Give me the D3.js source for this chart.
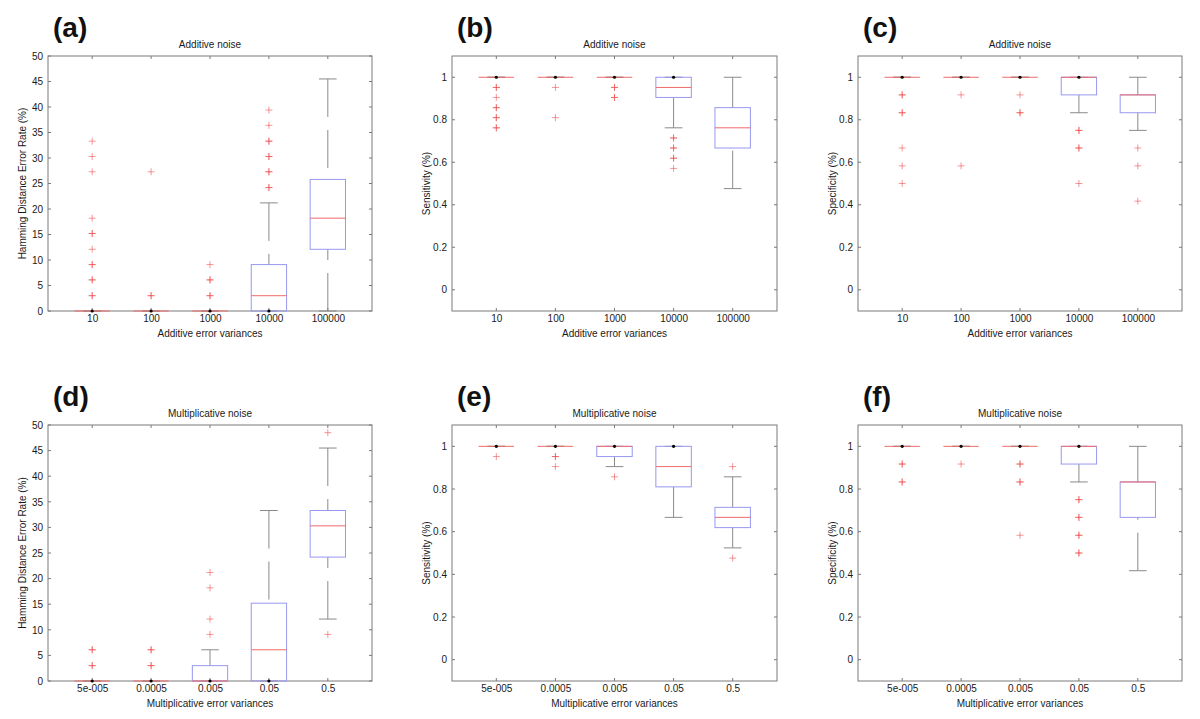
<!DOCTYPE html>
<html>
<head>
<meta charset="utf-8">
<script src="https://cdn.jsdelivr.net/npm/d3@7"></script>
<style>
  html, body { margin: 0; padding: 0; background: #fff; }
  svg { display: block; font-family: "Liberation Sans", Arial, Helvetica, sans-serif; }
</style>
</head>
<body>
<svg id="chart" width="1200" height="719"></svg>
<script>
// ---------- Data ----------
const addCats = ["10", "100", "1000", "10000", "100000"];
const mulCats = ["5e-005", "0.0005", "0.005", "0.05", "0.5"];

const hdTicks = [0, 5, 10, 15, 20, 25, 30, 35, 40, 45, 50];
const rateTicks = [0, 0.2, 0.4, 0.6, 0.8, 1];

// (a) Additive noise, Hamming distance error rate
const aQ1  = [0, 0, 0, 0, 12.1];
const aMed = [0, 0, 0, 3.0, 18.2];
const aQ3  = [0, 0, 0, 9.1, 25.8];
const aLo  = [0, 0, 0, 0, 0];
const aHi  = [0, 0, 0, 21.2, 45.5];
const aOut = [
  [33.3, 30.3, 27.3, 18.2, 15.2, 15.2, 12.1, 9.1, 9.1, 6.1, 6.1, 3.0, 3.0],
  [27.3, 3.0, 3.0],
  [9.1, 6.1, 6.1, 3.0, 3.0],
  [39.4, 36.4, 33.3, 33.3, 30.3, 30.3, 27.3, 27.3, 24.2, 24.2],
  []
];

// (b) Additive noise, sensitivity
const bQ1  = [1, 1, 1, 0.905, 0.667];
const bMed = [1, 1, 1, 0.952, 0.762];
const bQ3  = [1, 1, 1, 1, 0.857];
const bLo  = [1, 1, 1, 0.762, 0.476];
const bHi  = [1, 1, 1, 1, 1];
const bOut = [
  [0.952, 0.952, 0.905, 0.857, 0.857, 0.810, 0.810, 0.762, 0.762],
  [0.952, 0.810],
  [0.952, 0.952, 0.905, 0.905],
  [0.714, 0.714, 0.667, 0.667, 0.619, 0.619, 0.571],
  []
];

// (c) Additive noise, specificity
const cQ1  = [1, 1, 1, 0.917, 0.833];
const cMed = [1, 1, 1, 1, 0.917];
const cQ3  = [1, 1, 1, 1, 0.917];
const cLo  = [1, 1, 1, 0.833, 0.75];
const cHi  = [1, 1, 1, 1, 1];
const cOut = [
  [0.917, 0.917, 0.833, 0.833, 0.667, 0.583, 0.5],
  [0.917, 0.583],
  [0.917, 0.833, 0.833],
  [0.75, 0.75, 0.667, 0.667, 0.5],
  [0.667, 0.583, 0.417]
];

// (d) Multiplicative noise, Hamming distance error rate
const dQ1  = [0, 0, 0, 0, 24.2];
const dMed = [0, 0, 0, 6.1, 30.3];
const dQ3  = [0, 0, 3.0, 15.2, 33.3];
const dLo  = [0, 0, 0, 0, 12.1];
const dHi  = [0, 0, 6.1, 33.3, 45.5];
const dOut = [
  [6.1, 6.1, 3.0, 3.0],
  [6.1, 6.1, 3.0, 3.0],
  [21.2, 18.2, 12.1, 9.1],
  [],
  [48.5, 9.1]
];

// (e) Multiplicative noise, sensitivity
const eQ1  = [1, 1, 0.952, 0.810, 0.619];
const eMed = [1, 1, 1, 0.905, 0.667];
const eQ3  = [1, 1, 1, 1, 0.714];
const eLo  = [1, 1, 0.905, 0.667, 0.524];
const eHi  = [1, 1, 1, 1, 0.857];
const eOut = [
  [0.952],
  [0.952, 0.952, 0.905],
  [0.857],
  [],
  [0.905, 0.476]
];

// (f) Multiplicative noise, specificity
const fQ1  = [1, 1, 1, 0.917, 0.667];
const fMed = [1, 1, 1, 1, 0.833];
const fQ3  = [1, 1, 1, 1, 0.833];
const fLo  = [1, 1, 1, 0.833, 0.417];
const fHi  = [1, 1, 1, 1, 1];
const fOut = [
  [0.917, 0.917, 0.833, 0.833],
  [0.917],
  [0.917, 0.917, 0.833, 0.833, 0.583],
  [0.75, 0.75, 0.667, 0.667, 0.583, 0.583, 0.5, 0.5],
  []
];

const panels = [
  {tag: "(a)", title: "Additive noise", ylab: "Hamming Distance Error Rate (%)", xlab: "Additive error variances",
   cats: addCats, yDom: [0, 50], ticks: hdTicks, q1: aQ1, med: aMed, q3: aQ3, lo: aLo, hi: aHi, out: aOut, col: 0, row: 0},
  {tag: "(b)", title: "Additive noise", ylab: "Sensitivity (%)", xlab: "Additive error variances",
   cats: addCats, yDom: [-0.1, 1.1], ticks: rateTicks, q1: bQ1, med: bMed, q3: bQ3, lo: bLo, hi: bHi, out: bOut, col: 1, row: 0},
  {tag: "(c)", title: "Additive noise", ylab: "Specificity (%)", xlab: "Additive error variances",
   cats: addCats, yDom: [-0.1, 1.1], ticks: rateTicks, q1: cQ1, med: cMed, q3: cQ3, lo: cLo, hi: cHi, out: cOut, col: 2, row: 0},
  {tag: "(d)", title: "Multiplicative noise", ylab: "Hamming Distance Error Rate (%)", xlab: "Multiplicative error variances",
   cats: mulCats, yDom: [0, 50], ticks: hdTicks, q1: dQ1, med: dMed, q3: dQ3, lo: dLo, hi: dHi, out: dOut, col: 0, row: 1},
  {tag: "(e)", title: "Multiplicative noise", ylab: "Sensitivity (%)", xlab: "Multiplicative error variances",
   cats: mulCats, yDom: [-0.1, 1.1], ticks: rateTicks, q1: eQ1, med: eMed, q3: eQ3, lo: eLo, hi: eHi, out: eOut, col: 1, row: 1},
  {tag: "(f)", title: "Multiplicative noise", ylab: "Specificity (%)", xlab: "Multiplicative error variances",
   cats: mulCats, yDom: [-0.1, 1.1], ticks: rateTicks, q1: fQ1, med: fMed, q3: fQ3, lo: fLo, hi: fHi, out: fOut, col: 2, row: 1}
];

// ---------- Layout ----------
const colX = [[48, 372], [452, 777], [858, 1182]];
const rowY = [[56, 311], [425, 681]];

const AXIS = "#7a7a7a", WHISK = "#8a8a8a", BOX = "#9898f0", MED = "#f06a6a", OUT = "#ee4444", TXT = "#1a1a1a";

const svg = d3.select("#chart");
svg.append("rect").attr("width", 1200).attr("height", 719).attr("fill", "#fff");

panels.forEach(p => {
  const [x0, x1] = colX[p.col];
  const [y0, y1] = rowY[p.row];
  const x = d3.scaleLinear().domain([0.25, p.cats.length + 0.75]).range([x0, x1]);
  const y = d3.scaleLinear().domain(p.yDom).range([y1, y0]);
  const g = svg.append("g");
  const step = x(2) - x(1);
  const bw = 0.6 * step, cw = 0.3 * step;

  // frame
  g.append("rect").attr("x", x0).attr("y", y0).attr("width", x1 - x0).attr("height", y1 - y0)
    .attr("fill", "none").attr("stroke", AXIS).attr("stroke-width", 1);

  // y axis (left, inward ticks) + right inward ticks
  const yAxis = d3.axisLeft(y).tickValues(p.ticks).tickSize(0).tickPadding(5)
    .tickFormat(d => d3.format("~g")(d));
  const ya = g.append("g").attr("transform", `translate(${x0},0)`).call(yAxis);
  ya.select(".domain").remove();
  ya.selectAll("text").attr("font-size", 10).attr("fill", TXT).attr("font-family", "Liberation Sans, Arial, sans-serif");
  p.ticks.forEach(t => {
    g.append("line").attr("x1", x0).attr("x2", x0 + 3).attr("y1", y(t)).attr("y2", y(t)).attr("stroke", AXIS);
    g.append("line").attr("x1", x1 - 3).attr("x2", x1).attr("y1", y(t)).attr("y2", y(t)).attr("stroke", AXIS);
  });

  // x axis
  const idx = p.cats.map((c, i) => i + 1);
  const xAxis = d3.axisBottom(x).tickValues(idx).tickSize(0).tickPadding(4).tickFormat(i => p.cats[i - 1]);
  const xa = g.append("g").attr("transform", `translate(0,${y1})`).call(xAxis);
  xa.select(".domain").remove();
  xa.selectAll("text").attr("font-size", 10).attr("fill", TXT).attr("font-family", "Liberation Sans, Arial, sans-serif");
  idx.forEach(i => {
    g.append("line").attr("x1", x(i)).attr("x2", x(i)).attr("y1", y1).attr("y2", y1 - 3).attr("stroke", AXIS);
    g.append("line").attr("x1", x(i)).attr("x2", x(i)).attr("y1", y0).attr("y2", y0 + 3).attr("stroke", AXIS);
  });

  // labels
  g.append("text").attr("x", (x0 + x1) / 2).attr("y", y1 + 25.5).attr("text-anchor", "middle")
    .attr("font-size", 10).attr("fill", TXT).text(p.xlab);
  g.append("text").attr("transform", `translate(${x0 - 22},${(y0 + y1) / 2}) rotate(-90)`)
    .attr("text-anchor", "middle").attr("font-size", 10).attr("fill", TXT).text(p.ylab);
  g.append("text").attr("x", (x0 + x1) / 2).attr("y", y0 - 8.5).attr("text-anchor", "middle")
    .attr("font-size", 10).attr("fill", TXT).text(p.title);
  g.append("text").attr("x", x0 + 5).attr("y", y0 - 19).attr("font-size", 28).attr("font-weight", "bold")
    .attr("fill", "#111").text(p.tag);

  // boxes
  p.cats.forEach((c, k) => {
    const cx = x(k + 1);
    const q1 = p.q1[k], q3 = p.q3[k], med = p.med[k], lo = p.lo[k], hi = p.hi[k];
    // whiskers (dash pattern starts at the cap)
    if (hi > q3) {
      g.append("line").attr("x1", cx).attr("x2", cx).attr("y1", y(hi)).attr("y2", y(q3))
        .attr("stroke", WHISK).attr("stroke-dasharray", "38,13");
    }
    if (lo < q1) {
      g.append("line").attr("x1", cx).attr("x2", cx).attr("y1", y(lo)).attr("y2", y(q1))
        .attr("stroke", WHISK).attr("stroke-dasharray", "38,13");
    }
    [hi, lo].forEach(v => {
      g.append("line").attr("x1", cx - cw / 2).attr("x2", cx + cw / 2).attr("y1", y(v)).attr("y2", y(v))
        .attr("stroke", WHISK);
    });
    // box
    g.append("rect").attr("x", cx - bw / 2).attr("y", y(q3)).attr("width", bw)
      .attr("height", Math.max(0, y(q1) - y(q3))).attr("fill", "none").attr("stroke", BOX);
    // median
    g.append("line").attr("x1", cx - bw / 2).attr("x2", cx + bw / 2).attr("y1", y(med)).attr("y2", y(med))
      .attr("stroke", MED);
    // zero-length whisker markers
    const dots = [];
    if (hi === q3) dots.push(hi);
    if (lo === q1 && lo !== hi) dots.push(lo);
    dots.forEach(v => {
      g.append("circle").attr("cx", cx).attr("cy", y(v)).attr("r", 1.6).attr("fill", "#000");
    });
    // outliers
    p.out[k].forEach(v => {
      const py = y(v);
      g.append("path").attr("d", `M${cx - 3.5},${py}H${cx + 3.5}M${cx},${py - 3.5}V${py + 3.5}`)
        .attr("stroke", OUT).attr("stroke-width", 1).attr("stroke-opacity", 0.55).attr("fill", "none");
    });
  });
});
</script>
</body>
</html>
